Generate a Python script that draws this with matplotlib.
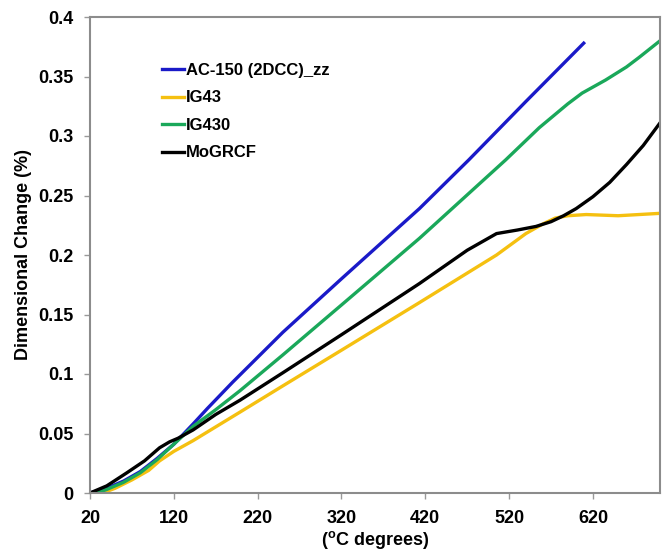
import matplotlib
matplotlib.use('Agg')
import matplotlib.pyplot as plt

plt.rcParams['font.family'] = ['Liberation Sans', 'DejaVu Sans']
plt.rcParams['font.weight'] = 'bold'
plt.rcParams['axes.labelweight'] = 'bold'
plt.rcParams['mathtext.fontset'] = 'custom'
plt.rcParams['mathtext.rm'] = 'Liberation Sans:bold'

# dimensional change vs temperature, one series per grade
ac150_t = [20, 40, 60, 80, 100, 120, 143, 160, 190, 220, 250, 320, 413, 472, 540, 609]
ac150_d = [0, 0.004, 0.010, 0.018, 0.029, 0.041, 0.058, 0.071, 0.093, 0.114, 0.135, 0.180, 0.239, 0.280, 0.329, 0.378]

ig43_t = [35, 50, 70, 90, 103, 120, 143, 199, 250, 320, 413, 505, 540, 560, 575, 590, 612, 650, 700]
ig43_d = [0, 0.004, 0.011, 0.019, 0.027, 0.035, 0.044, 0.068, 0.090, 0.120, 0.160, 0.200, 0.218, 0.226, 0.231, 0.233, 0.234, 0.233, 0.235]

ig430_t = [28, 40, 60, 80, 100, 120, 143, 170, 199, 250, 320, 413, 516, 556, 590, 607, 635, 660, 675, 700]
ig430_d = [0, 0.003, 0.009, 0.017, 0.028, 0.041, 0.056, 0.070, 0.086, 0.116, 0.158, 0.214, 0.280, 0.307, 0.327, 0.336, 0.347, 0.358, 0.366, 0.380]

mogrcf_t = [20, 40, 64, 85, 103, 115, 125, 143, 170, 199, 250, 320, 413, 470, 505, 530, 552, 570, 585, 600, 620, 640, 660, 680, 700]
mogrcf_d = [0, 0.006, 0.017, 0.027, 0.038, 0.043, 0.046, 0.053, 0.066, 0.078, 0.101, 0.133, 0.176, 0.204, 0.218, 0.221, 0.224, 0.228, 0.233, 0.239, 0.249, 0.261, 0.276, 0.292, 0.311]

xticks = [20, 120, 220, 320, 420, 520, 620]
yticks = [0, 0.05, 0.1, 0.15, 0.2, 0.25, 0.3, 0.35, 0.4]
ytick_labels = ['0', '0.05', '0.1', '0.15', '0.2', '0.25', '0.3', '0.35', '0.4']

fig = plt.figure(figsize=(6.62, 5.54), dpi=100)
ax = fig.add_axes([90 / 662, 61 / 554, 570 / 662, 476 / 554])

lw = 2.4
ax.plot(ac150_t, ac150_d, color='#1a1ac8', lw=lw, label='AC-150 (2DCC)_zz')
ax.plot(ig43_t, ig43_d, color='#f5c010', lw=lw, label='IG43')
ax.plot(ig430_t, ig430_d, color='#1aa85a', lw=lw, label='IG430')
ax.plot(mogrcf_t, mogrcf_d, color='black', lw=lw, label='MoGRCF')

ax.set_xlim(20, 700)
ax.set_ylim(0, 0.4)
ax.set_xticks(xticks)
ax.set_yticks(yticks)
ax.set_yticklabels(ytick_labels)
ax.tick_params(labelsize=13, color='#999999', length=4, width=1, pad=8)
for s in ax.spines.values():
    s.set_color('#8c8c8c')
    s.set_linewidth(1.5)

ax.set_ylabel('Dimensional Change (%)', fontsize=13, labelpad=4)
ax.set_xlabel(r'($^{\mathrm{o}}$C degrees)', fontsize=13, labelpad=2)

ax.legend(loc='upper left', bbox_to_anchor=(0.1, 0.935), frameon=False,
          fontsize=12, handlelength=1.3, handletextpad=0.15, labelspacing=0.75)

fig.savefig('out.png', dpi=100)
